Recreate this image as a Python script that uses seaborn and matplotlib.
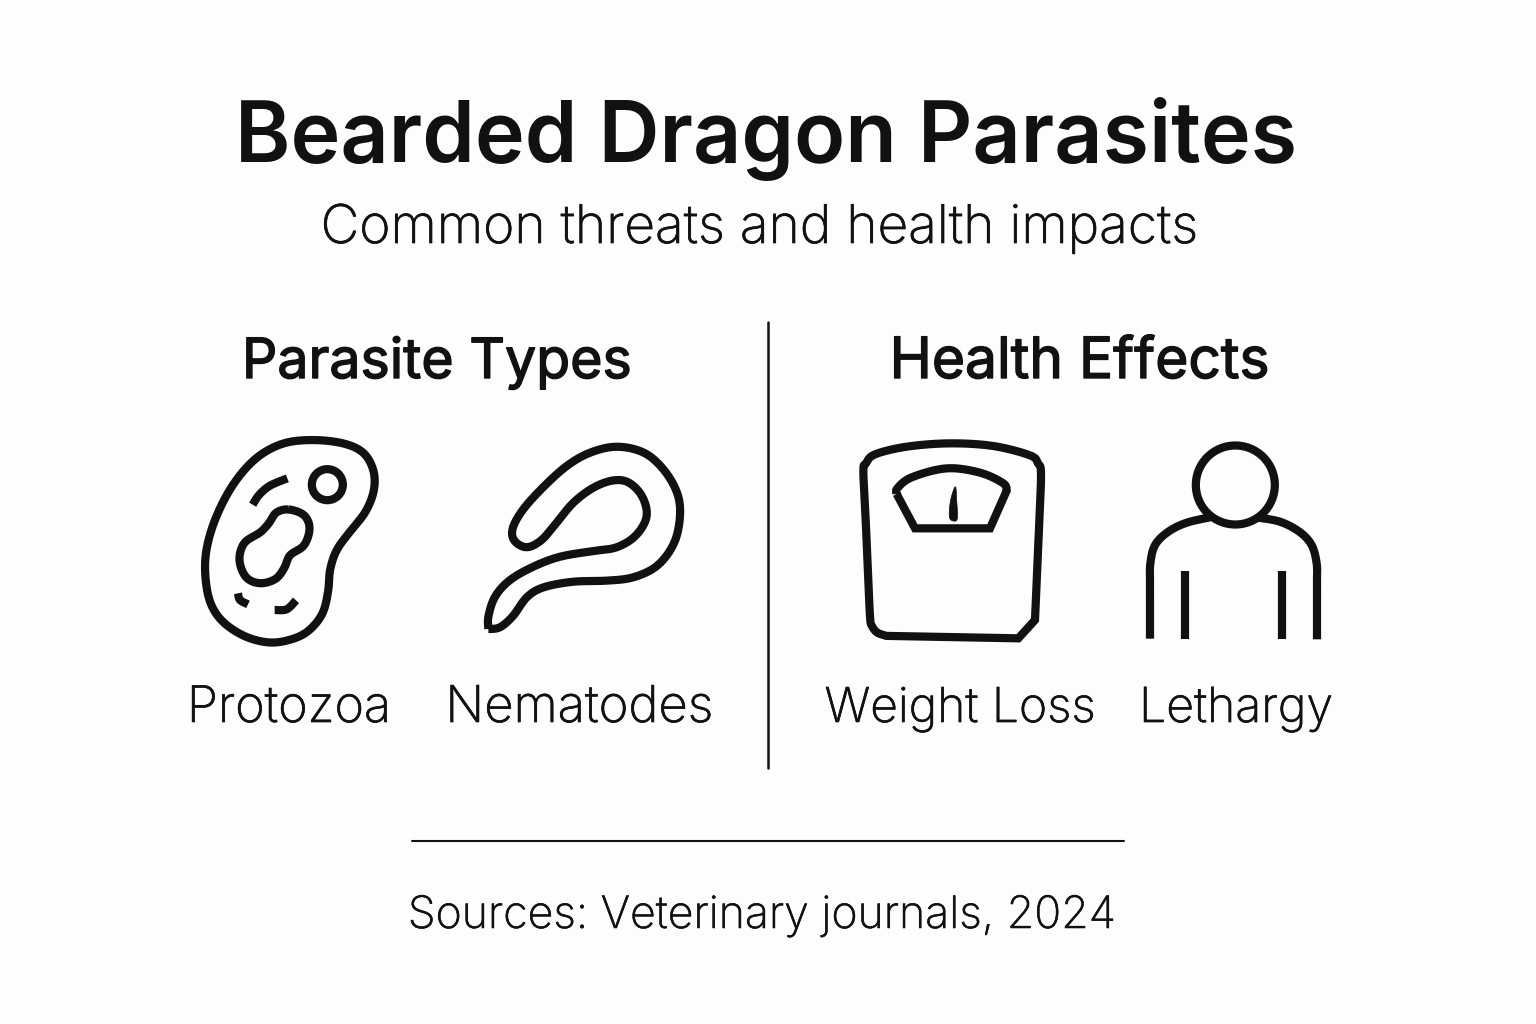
import numpy as np
import pandas as pd
import matplotlib
matplotlib.use('Agg')
import matplotlib.pyplot as plt
import matplotlib.patheffects as pe
from matplotlib.path import Path
from matplotlib.patches import PathPatch, Circle
import seaborn as sns

# text content
title = 'Bearded Dragon Parasites'
subtitle = 'Common threats and health impacts'
group_names = ['Parasite Types', 'Health Effects']
item_names = ['Protozoa', 'Nematodes', 'Weight Loss', 'Lethargy']
source_note = 'Sources: Veterinary journals, 2024'

INK = '#111111'
BG = '#fdfdfd'
LW = 8.2 * 0.72  # px to pt at dpi 100

sns.set_theme(style='white')
plt.rcParams['font.family'] = ['Inter', 'Liberation Sans', 'DejaVu Sans']

fig, ax = plt.subplots(figsize=(15.36, 10.24), dpi=100)
fig.patch.set_facecolor(BG)
ax.set_position([0, 0, 1, 1])
ax.set_xlim(0, 1536)
ax.set_ylim(1024, 0)
ax.axis('off')


# catmull-rom through the points, sampled densely, then low-pass to take out hand-read wobble
def smooth(pts, closed=False, blur=13):
    pts = np.array(pts, dtype=float)
    n = len(pts)
    t = np.linspace(0, 1, 16, endpoint=False)[:, None]
    out = []
    for i in range(n if closed else n - 1):
        if closed:
            p0, p1, p2, p3 = pts[(i - 1) % n], pts[i], pts[(i + 1) % n], pts[(i + 2) % n]
        else:
            p0, p1, p2, p3 = pts[max(i - 1, 0)], pts[i], pts[i + 1], pts[min(i + 2, n - 1)]
        out.append(0.5 * (2 * p1 + (p2 - p0) * t + (2 * p0 - 5 * p1 + 4 * p2 - p3) * t ** 2
                          + (3 * p1 - p0 - 3 * p2 + p3) * t ** 3))
    line = np.vstack(out)
    if not closed:
        line = np.vstack([line, pts[-1]])
    kernel = np.hanning(blur + 2)[1:-1]
    kernel /= kernel.sum()
    if closed:
        padded = np.vstack([line[-blur:], line, line[:blur]])
    else:
        # point reflection keeps the end points where they are
        padded = np.vstack([2 * line[0] - line[blur:0:-1], line, 2 * line[-1] - line[-2:-blur - 2:-1]])
    smoothed = np.column_stack([np.convolve(padded[:, k], kernel, mode='same') for k in (0, 1)])
    smoothed = smoothed[blur:-blur]
    if closed:
        smoothed = np.vstack([smoothed, smoothed[:1]])
    return Path(smoothed)


def stroke(path, lw=LW, fill='none', cap='butt', join='round'):
    ax.add_patch(PathPatch(path, fc=fill, ec=INK, lw=lw, capstyle=cap, joinstyle=join))


def crop1(pts):
    return np.array(pts, dtype=float) / 3 + [180, 420]


def crop2(pts):
    return np.array(pts, dtype=float) / 3 + [840, 420]


# Protozoa
stroke(smooth(crop1([(400, 60), (490, 70), (550, 98), (580, 150), (582, 210), (557, 275), (510, 335),
                     (470, 390), (450, 450), (445, 510), (427, 582), (380, 637), (320, 662), (260, 667),
                     (190, 647), (125, 602), (88, 540), (75, 450), (83, 370), (113, 280), (163, 188),
                     (230, 113), (310, 70)]), closed=True))
stroke(smooth(crop1([(325, 268), (372, 285), (389, 325), (372, 377), (330, 405), (314, 442), (287, 477),
                     (240, 490), (198, 472), (178, 420), (193, 368), (240, 338), (268, 308), (288, 278)]),
              closed=True))
ax.add_patch(Circle(crop1([(442, 194)])[0], 15.5, fc='none', ec=INK, lw=LW))
stroke(smooth(crop1([(322, 175), (270, 197), (237, 225), (218, 254)]), blur=5))
stroke(smooth(crop1([(174, 520), (180, 540), (204, 553)]), blur=5))
stroke(smooth(crop1([(284, 570), (320, 568), (348, 541)]), blur=5))

# Nematode
stroke(smooth(crop1([(925, 627), (925, 590), (945, 530), (990, 480), (1060, 440), (1140, 410), (1240, 393),
                     (1310, 382), (1367, 347), (1400, 290), (1387, 230), (1347, 188), (1300, 181),
                     (1240, 203), (1180, 248), (1130, 308), (1085, 360), (1040, 382), (1003, 362),
                     (998, 325), (1028, 270), (1088, 203), (1160, 138), (1230, 98), (1310, 80),
                     (1392, 98), (1452, 150), (1492, 220), (1500, 290), (1482, 370), (1432, 437),
                     (1360, 472), (1280, 482), (1180, 485), (1090, 502), (1040, 532), (1000, 587),
                     (960, 622), (925, 627)]), blur=9))

# Scale body, rounded corners except the chamfer at lower right
scale_top = smooth(crop2([(77, 300), (70, 155), (78, 130), (105, 103), (200, 80), (330, 70), (460, 78),
                          (570, 106), (594, 130), (603, 160), (598, 300), (585, 600)]), blur=5)
scale_tail = smooth(crop2([(140, 648), (112, 638), (96, 618), (90, 590), (84, 450), (77, 300)]), blur=5)
stroke(Path(np.vstack([scale_top.vertices, crop2([(535, 655)]), scale_tail.vertices])), join='miter')
# dial, curved top and straight sharp bottom
dial_top = smooth(crop2([(170, 222), (172, 205), (215, 172), (320, 145), (420, 158), (490, 190), (500, 212)]), blur=5)
stroke(Path(np.vstack([dial_top.vertices, crop2([(450, 325), (225, 325), (170, 222)])])), join='miter')
stroke(smooth(crop2([(346, 200), (332, 240), (328, 290), (340, 303), (352, 295), (350, 240)]), closed=True, blur=3),
       lw=0.5, fill=INK)

# Person
ax.add_patch(Circle(crop2([(1186, 195)])[0], 39.5, fc='none', ec=INK, lw=LW))
stroke(smooth(crop2([(930, 656), (930, 560), (930, 480), (931, 430), (945, 375), (985, 335), (1040, 308), (1110, 292)]),
              blur=9))
stroke(smooth(crop2([(1431, 658), (1431, 560), (1431, 480), (1430, 430), (1415, 375), (1378, 335), (1320, 305), (1255, 293)]),
              blur=9))
stroke(Path(crop2([(1035, 454), (1035, 658)])), lw=LW)
stroke(Path(crop2([(1326, 454), (1326, 658)])), lw=LW)

# divider and footer rule
rules = pd.DataFrame({'x': [767.5, 767.5, 412, 1124], 'y': [322, 768, 841, 841], 'rule': ['v', 'v', 'h', 'h']})
sns.lineplot(data=rules[rules.rule == 'v'], x='x', y='y', color=INK, lw=1.8, sort=False, estimator=None, ax=ax)
sns.lineplot(data=rules[rules.rule == 'h'], x='x', y='y', color=INK, lw=1.5, sort=False, estimator=None, ax=ax)
ax.set_xlim(0, 1536)
ax.set_ylim(1024, 0)
ax.axis('off')


# text with its size fitted to the width in the reference
# Inter only has a few weights here, so a thin outline stands in for the ones between
def fit_text(s, cx, base, width, weight, thicken=0):
    t = ax.text(cx, base, s, ha='center', va='baseline', color=INK, fontsize=40, fontweight=weight)
    w = t.get_window_extent(fig.canvas.get_renderer()).width
    t.set_fontsize(40 * width / w)
    if thicken:
        t.set_path_effects([pe.withStroke(linewidth=thicken, foreground=INK)])


fit_text(title, 766.5, 162, 1063, 'semibold')
fit_text(subtitle, 759.5, 243, 877, 'light', 0.5)
fit_text(group_names[0], 437, 378, 390, 'normal', 1.0)
fit_text(group_names[1], 1079.5, 378, 380, 'normal', 1.0)
fit_text(item_names[0], 289, 722, 204, 'light', 0.5)
fit_text(item_names[1], 579.5, 722, 268, 'light', 0.5)
fit_text(item_names[2], 960, 722, 271, 'light', 0.5)
fit_text(item_names[3], 1236, 722, 194, 'light', 0.5)
fit_text(source_note, 761.5, 928, 708, 'light', 0.4)

fig.savefig('out.png', dpi=100, facecolor=BG)
